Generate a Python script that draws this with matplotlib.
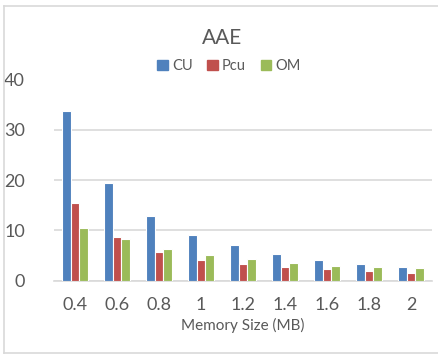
import matplotlib
matplotlib.use("Agg")
import matplotlib.pyplot as plt
import numpy as np
from matplotlib.patches import Rectangle
from matplotlib.lines import Line2D

categories = ["0.4", "0.6", "0.8", "1", "1.2", "1.4", "1.6", "1.8", "2"]
cu = [33.7, 19.4, 12.9, 9.1, 7.0, 5.4, 4.2, 3.4, 2.8]
pcu = [15.5, 8.7, 5.8, 4.2, 3.4, 2.7, 2.3, 1.9, 1.5]
om = [10.4, 8.2, 6.4, 5.1, 4.3, 3.6, 3.0, 2.8, 2.6]
series_names = ["CU", "Pcu", "OM"]
colors = ["#4F81BD", "#C0504D", "#9BBB59"]
yticks = [0, 10, 20, 30, 40]

plt.rcParams['font.family'] = ['Lato', 'DejaVu Sans']

W, H = 439, 355
fig = plt.figure(figsize=(W / 100, H / 100), dpi=100)
ax = fig.add_axes([54 / W, 1 - 280.7 / H, (432 - 54) / W, (280.7 - 79.5) / H])

x = np.arange(len(categories))
bw = 0.207
for i, (vals, c) in enumerate(zip([cu, pcu, om], colors)):
    ax.bar(x + (i - 1) * bw, vals, width=bw, color=c, edgecolor="white", linewidth=0.8, zorder=3)

ax.set_xlim(-0.5, len(categories) - 0.5)
ax.set_ylim(0, 40)
ax.set_yticks(yticks)
ax.set_yticklabels([str(t) for t in yticks])
ax.set_xticks(x)
ax.set_xticklabels(categories)
ax.tick_params(axis="both", length=0, labelsize=13, colors="#595959")
ax.tick_params(axis="y", pad=21)
ax.tick_params(axis="x", pad=12)
ax.grid(axis="y", color="#d9d9d9", linewidth=1.2, zorder=0)
for s in ["top", "right", "left"]:
    ax.spines[s].set_visible(False)
ax.spines["bottom"].set_color("#d9d9d9")
ax.spines["bottom"].set_linewidth(1.2)
ax.set_xlabel("Memory Size (MB)", fontsize=11, color="#595959", labelpad=3)

fig.text(222 / W, 1 - 38 / H, "AAE", ha="center", va="center", fontsize=15, color="#595959")

handles = [Rectangle((0, 0), 1, 1, color=c) for c in colors]
fig.legend(handles, series_names, loc="center", bbox_to_anchor=(229 / W, 1 - 66 / H),
           ncol=3, frameon=False, fontsize=10.5, labelcolor="#595959",
           handlelength=0.7, handleheight=0.7, handletextpad=0.3, columnspacing=1.0)

# chart border (left, top, bottom visible)
fig.add_artist(Line2D([4 / W, 4 / W], [1 - 353 / H, 1 - 6 / H], transform=fig.transFigure, color="#d9d9d9", lw=1.2))
fig.add_artist(Line2D([4 / W, 1.0], [1 - 6 / H, 1 - 6 / H], transform=fig.transFigure, color="#d9d9d9", lw=1.2))
fig.add_artist(Line2D([4 / W, 1.0], [1 - 353 / H, 1 - 353 / H], transform=fig.transFigure, color="#d9d9d9", lw=1.2))

fig.savefig("out.png", dpi=100)
